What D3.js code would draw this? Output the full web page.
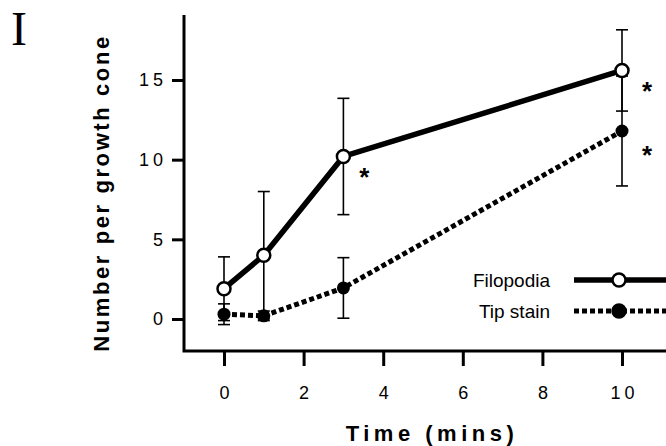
<!DOCTYPE html>
<html>
<head>
<meta charset="utf-8">
<script src="https://cdn.jsdelivr.net/npm/d3@7"></script>
<style>
  body { margin: 0; background: #fff; }
  svg { display: block; }
  text { font-family: "Liberation Sans", Arial, Helvetica, sans-serif; fill: #000; }
</style>
</head>
<body>
<svg id="chart" width="666" height="446"></svg>
<script>
// values
const times = [0, 1, 3, 10];
const filopodia = [1.9, 4.0, 10.2, 15.6];
const filopodiaErr = [2.0, 4.0, 3.65, 2.55];
const tipStain = [0.3, 0.2, 1.95, 11.8];
const tipStainErr = [0.65, 0.3, 1.9, 3.45];
const xTicks = [0, 2, 4, 6, 8, 10];
const yTicks = [0, 5, 10, 15];
// significance marks: [series, index]
const stars = [["filopodia", 2], ["filopodia", 3], ["tipStain", 3]];

const svg = d3.select("#chart");

const x = d3.scaleLinear().domain([0, 10]).range([224, 622]);
const y = d3.scaleLinear().domain([0, 15]).range([319, 80]);

const axisX = 184, axisY = 351;

// panel letter
svg.append("text")
  .attr("x", 11).attr("y", 45)
  .style("font-family", "'Liberation Serif', 'Times New Roman', serif")
  .style("font-size", "48px")
  .text("I");

// axes lines
svg.append("path")
  .attr("d", `M${axisX},15V${axisY}H666`)
  .attr("fill", "none").attr("stroke", "#000").attr("stroke-width", 3);

// y axis ticks + labels
const yAxis = d3.axisLeft(y).tickValues(yTicks).tickSize(12).tickPadding(9)
  .tickFormat(d3.format("d"));
const gy = svg.append("g").attr("transform", `translate(${axisX},0)`).call(yAxis);
gy.select(".domain").remove();
gy.selectAll(".tick line").attr("stroke-width", 3);
gy.selectAll(".tick text")
  .style("font-size", "18px").style("letter-spacing", "4px")
  .attr("dx", "4px");

// x axis ticks + labels
const xAxis = d3.axisBottom(x).tickValues(xTicks).tickSize(15).tickPadding(20)
  .tickFormat(d3.format("d"));
const gx = svg.append("g").attr("transform", `translate(0,${axisY})`).call(xAxis);
gx.select(".domain").remove();
gx.selectAll(".tick line").attr("stroke-width", 3);
gx.selectAll(".tick text")
  .style("font-size", "18px").style("letter-spacing", "4px")
  .attr("dx", "2px");

// axis titles
svg.append("text")
  .attr("transform", "translate(109,193) rotate(-90)")
  .attr("text-anchor", "middle")
  .style("font-size", "22px").style("font-weight", "bold").style("letter-spacing", "2.6px")
  .text("Number per growth cone");

svg.append("text")
  .attr("x", 432).attr("y", 441)
  .attr("text-anchor", "middle")
  .style("font-size", "22px").style("font-weight", "bold").style("letter-spacing", "4.5px")
  .text("Time (mins)");

const seriesData = {
  filopodia: times.map((t, i) => ({t, v: filopodia[i], e: filopodiaErr[i]})),
  tipStain: times.map((t, i) => ({t, v: tipStain[i], e: tipStainErr[i]}))
};

const line = d3.line().x(d => x(d.t)).y(d => y(d.v));

// lines
svg.append("path").datum(seriesData.tipStain)
  .attr("d", line).attr("fill", "none").attr("stroke", "#000")
  .attr("stroke-width", 5).attr("stroke-dasharray", "5,3");
svg.append("path").datum(seriesData.filopodia)
  .attr("d", line).attr("fill", "none").attr("stroke", "#000")
  .attr("stroke-width", 5.5);

// error bars
const drawErr = (data) => {
  const g = svg.append("g").attr("stroke", "#000").attr("stroke-width", 1.6);
  data.forEach(d => {
    const cx = x(d.t), top = y(d.v + d.e), bot = y(d.v - d.e);
    g.append("line").attr("x1", cx).attr("x2", cx).attr("y1", top).attr("y2", bot);
    g.append("line").attr("x1", cx - 6).attr("x2", cx + 6).attr("y1", top).attr("y2", top);
    g.append("line").attr("x1", cx - 6).attr("x2", cx + 6).attr("y1", bot).attr("y2", bot);
  });
};
drawErr(seriesData.filopodia);
drawErr(seriesData.tipStain);

// markers
svg.append("g").selectAll("circle").data(seriesData.tipStain).join("circle")
  .attr("cx", d => x(d.t)).attr("cy", d => y(d.v)).attr("r", 6.5)
  .attr("fill", "#000");
svg.append("g").selectAll("circle").data(seriesData.filopodia).join("circle")
  .attr("cx", d => x(d.t)).attr("cy", d => y(d.v)).attr("r", 6.5)
  .attr("fill", "#fff").attr("stroke", "#000").attr("stroke-width", 2.5);

// asterisks
svg.append("g").selectAll("text").data(stars).join("text")
  .attr("x", d => x(seriesData[d[0]][d[1]].t) + (d[1] === 3 ? 25 : 21))
  .attr("y", d => y(seriesData[d[0]][d[1]].v) + (d[0] === "tipStain" ? 33 : 30))
  .attr("text-anchor", "middle")
  .style("font-size", "26px").style("font-weight", "bold")
  .text("*");

// legend
const legend = [
  {name: "Filopodia", y: 280, dash: null, fill: "#fff", w: 5.5},
  {name: "Tip stain", y: 311, dash: "5,3", fill: "#000", w: 5}
];
const lg = svg.append("g");
legend.forEach(l => {
  lg.append("text").attr("x", 550).attr("y", l.y + 7)
    .attr("text-anchor", "end").style("font-size", "19px").text(l.name);
  lg.append("line").attr("x1", 574).attr("x2", 666).attr("y1", l.y).attr("y2", l.y)
    .attr("stroke", "#000").attr("stroke-width", l.w)
    .attr("stroke-dasharray", l.dash);
  lg.append("circle").attr("cx", 619).attr("cy", l.y).attr("r", 6.5)
    .attr("fill", l.fill).attr("stroke", "#000").attr("stroke-width", 2.5);
});
</script>
</body>
</html>
